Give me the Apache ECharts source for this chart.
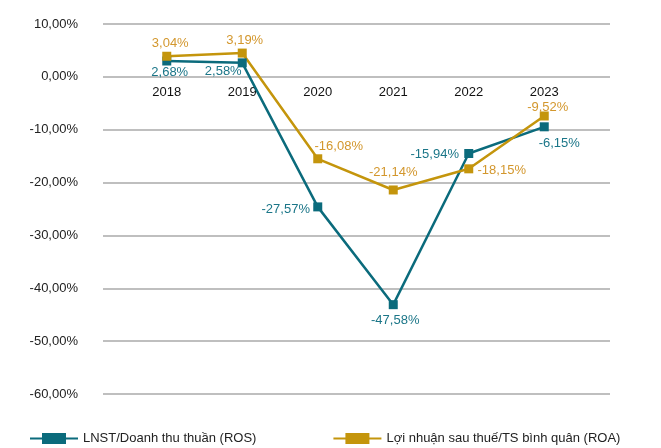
<!DOCTYPE html>
<html>
<head>
<meta charset="utf-8">
<script src="https://cdn.jsdelivr.net/npm/echarts@6/dist/echarts.min.js"></script>
<style>
html,body{margin:0;padding:0;background:#fff;}
#chart{width:661px;height:448px;}
</style>
</head>
<body>
<div id="chart"></div>
<script>
// ---- data ----
const categories = ['2018', '2019', '2020', '2021', '2022', '2023'];
const seriesNames = ['LNST/Doanh thu thuần (ROS)', 'Lợi nhuận sau thuế/TS bình quân (ROA)'];
// plotted positions
const rosValues = [3.0, 2.65, -24.6, -43.1, -14.5, -9.45];
const roaValues = [3.9, 4.5, -15.5, -21.4, -17.4, -7.4];
// data label texts as printed
const rosLabels = ['2,68%', '2,58%', '-27,57%', '-47,58%', '-15,94%', '-6,15%'];
const roaLabels = ['3,04%', '3,19%', '-16,08%', '-21,14%', '-18,15%', '-9,52%'];
// y-axis
const yMin = -60, yMax = 10, yStep = 10;

// ---- layout / style ----
const FONT = '"Liberation Sans", Arial, Helvetica, sans-serif';
const ROS_COLOR = '#0b6b7c';
const ROA_COLOR = '#c4950c';
const rosOffsets = [[3, 11], [-19, 9], [-32, 2.5], [2, 16], [-34, 1], [15, 17]];
const roaOffsets = [[3.5, -13], [2.5, -12.7], [21, -12], [0, -17.5], [33, 1.5], [3.5, -9]];

const PLOT_TOP = 24, PLOT_BOTTOM = 54, H = 448;
const zeroY = PLOT_TOP + (H - PLOT_TOP - PLOT_BOTTOM) * (yMax - 0) / (yMax - yMin);

function fmtPct(v) {
  return v.toFixed(2).replace('.', ',') + '%';
}
function buildData(values, labels, offsets, color) {
  return values.map((v, i) => ({
    value: v,
    label: {
      show: true,
      position: 'inside',
      offset: offsets[i],
      formatter: labels[i],
      color: color,
      fontSize: 13,
      fontFamily: FONT
    }
  }));
}

const chart = echarts.init(document.getElementById('chart'), null, {renderer: 'canvas'});
const legendIcon = 'path://M0,4.5H12V0H36V4.5H48V6.5H36V11H12V6.5H0Z';

chart.setOption({
  animation: false,
  backgroundColor: '#ffffff',
  textStyle: {fontFamily: FONT},
  grid: [
    {left: 103, right: 51, top: PLOT_TOP, bottom: PLOT_BOTTOM, containLabel: false, outerBoundsMode: 'none'},
    {left: 129, right: 79, top: PLOT_TOP, bottom: PLOT_BOTTOM, containLabel: false, outerBoundsMode: 'none'},
    {left: 129, right: 79, top: 0, bottom: H - zeroY, containLabel: false, outerBoundsMode: 'none'}
  ],
  xAxis: [
    {gridIndex: 0, type: 'value', show: false, min: 0, max: 1},
    {
      gridIndex: 1, type: 'category', data: categories, boundaryGap: true,
      axisLine: {show: false}, axisTick: {show: false}, axisLabel: {show: false},
      splitLine: {show: false}
    },
    {
      gridIndex: 2, type: 'category', data: categories, boundaryGap: true, position: 'bottom',
      axisLine: {show: false}, axisTick: {show: false},
      axisLabel: {color: '#111', fontSize: 13, fontFamily: FONT, margin: 9},
      splitLine: {show: false}
    }
  ],
  yAxis: [
    {
      gridIndex: 0, type: 'value', min: yMin, max: yMax, interval: yStep,
      axisLine: {show: false}, axisTick: {show: false},
      axisLabel: {color: '#222', fontSize: 13, fontFamily: FONT, margin: 25, formatter: fmtPct},
      splitLine: {show: true, lineStyle: {color: '#aaaaaa', width: 1.5}}
    },
    {
      gridIndex: 1, type: 'value', min: yMin, max: yMax, interval: yStep,
      axisLine: {show: false}, axisTick: {show: false}, axisLabel: {show: false},
      splitLine: {show: false}
    },
    {
      gridIndex: 2, type: 'value', min: 0, max: 1, show: false
    }
  ],
  legend: {
    left: 30, top: 432, padding: 0,
    itemWidth: 48, itemHeight: 11, itemGap: 77,
    icon: legendIcon,
    textStyle: {color: '#222', fontSize: 13, fontFamily: FONT},
    data: seriesNames
  },
  series: [
    {
      name: seriesNames[0], type: 'line', xAxisIndex: 1, yAxisIndex: 1,
      data: buildData(rosValues, rosLabels, rosOffsets, '#1b7688'),
      symbol: 'rect', symbolSize: 9,
      itemStyle: {color: ROS_COLOR},
      lineStyle: {color: ROS_COLOR, width: 2.5},
      emphasis: {disabled: true}
    },
    {
      name: seriesNames[1], type: 'line', xAxisIndex: 1, yAxisIndex: 1,
      data: buildData(roaValues, roaLabels, roaOffsets, '#d3972d'),
      symbol: 'rect', symbolSize: 9,
      itemStyle: {color: ROA_COLOR},
      lineStyle: {color: ROA_COLOR, width: 2.5},
      emphasis: {disabled: true}
    }
  ]
});
</script>
</body>
</html>
